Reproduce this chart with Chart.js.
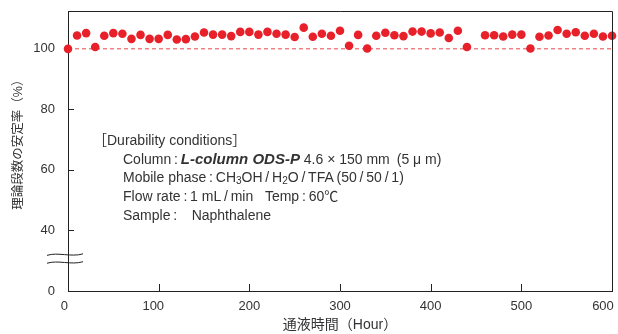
<!DOCTYPE html>
<html lang="ja">
<head>
  <meta charset="UTF-8">
  <title>理論段数の安定率</title>
  <script src="https://cdn.jsdelivr.net/npm/chart.js"></script>
  <style>
    body {
      margin: 0;
      background: #fff;
    }

    #wrap {
      width: 618px;
      height: 334px;
    }
  </style>
</head>
<body>
<div id="wrap">
  <canvas id="stabilityChart"></canvas>
</div>

<script>
  // 通液時間 (Hour) — 450 h は測定なし
  const hours = [0, 10, 20, 30, 40, 50, 60, 70, 80, 90,
    100, 110, 120, 130, 140, 150, 160, 170, 180, 190,
    200, 210, 220, 230, 240, 250, 260, 270, 280, 290,
    300, 310, 320, 330, 340, 350, 360, 370, 380, 390,
    400, 410, 420, 430, 440, 460, 470, 480, 490,
    500, 510, 520, 530, 540, 550, 560, 570, 580, 590, 600];

  // 理論段数の安定率 (%)
  const stability = [100.0, 104.4, 105.2, 100.6, 104.3, 105.2, 105.0, 103.3, 104.6, 103.3,
    103.3, 104.6, 103.1, 103.2, 104.1, 105.4, 104.7, 104.7, 104.2, 105.6,
    105.6, 104.7, 105.6, 105.0, 104.7, 103.9, 107.0, 104.0, 105.0, 104.3,
    106.0, 101.0, 104.6, 100.1, 104.3, 105.3, 104.5, 104.2, 105.7, 105.7,
    105.1, 105.4, 103.6, 106.0, 100.6, 104.5, 104.5, 104.1, 104.7,
    104.7, 100.1, 104.0, 104.4, 106.2, 105.0, 105.5, 104.3, 105.0, 104.1, 104.3];

  // 100 % の基準線
  const refHours = [0, 600];
  const refValues = [100, 100];

  const xTicks = [0, 100, 200, 300, 400, 500, 600];
  // 20 の位置は軸の切れ目の下で「0」と表示する
  const yTicks = [20, 40, 60, 80, 100];
  const yTickLabels = ['0', '40', '60', '80', '100'];

  const RED = '#e8202a';
  const INK = '#222';
  const LATIN = '"Liberation Sans", "Noto Sans CJK JP", sans-serif';

  // 右端・左端のラベルを少し左へ寄せる（元図に合わせて）
  const xLabelPad = { 0: 2, 100: 3, 600: 5 };

  const R = '14px ' + LATIN;
  const SUB = '10px ' + LATIN;
  const BI = 'italic bold 15px ' + LATIN;
  const C = '\u2009:\u2009';
  const S = '\u2009/\u2009';

  const noteLines = [
    { indent: 0, runs: [['［Durability conditions］', R]] },
    { indent: 30, runs: [['Column' + C, R], ['L-column ODS-P', BI], [' 4.6 × 150 mm\u2002(5 μ m)', R]] },
    { indent: 30, runs: [['Mobile phase' + C + 'CH', R], ['3', SUB, 3], ['OH' + S + 'H', R], ['2', SUB, 3],
      ['O' + S + 'TFA\u2009(50' + S + '50' + S + '1)', R]] },
    { indent: 30, runs: [['Flow rate' + C + '1 mL' + S + 'min   Temp' + C + '60℃', R]] },
    { indent: 30, runs: [['Sample' + C + '   Naphthalene', R]] }
  ];

  const decorPlugin = {
    id: 'decor',
    afterDraw(chart) {
      const { ctx, chartArea: a, scales: { x, y } } = chart;
      ctx.save();

      // 上・右の枠
      ctx.strokeStyle = INK;
      ctx.lineWidth = 1;
      ctx.beginPath();
      ctx.moveTo(a.left, a.top + 0.5);
      ctx.lineTo(a.right + 0.5, a.top + 0.5);
      ctx.lineTo(a.right + 0.5, a.bottom);
      ctx.stroke();

      // 内向きの目盛り
      ctx.beginPath();
      for (const v of xTicks.slice(1, -1)) {
        const px = Math.round(x.getPixelForValue(v)) + 0.5;
        ctx.moveTo(px, a.bottom);
        ctx.lineTo(px, a.bottom - 7);
      }
      for (const v of yTicks.slice(1, -1)) {
        const py = Math.round(y.getPixelForValue(v)) + 0.5;
        ctx.moveTo(a.left, py);
        ctx.lineTo(a.left + 6, py);
      }
      ctx.stroke();

      // 軸の切れ目（波線）
      for (const v of [32.1, 29.5]) {
        const py = y.getPixelForValue(v);
        ctx.beginPath();
        ctx.moveTo(a.left - 21, py + 1);
        ctx.bezierCurveTo(a.left - 10, py - 2.5, a.left + 3, py + 3, a.left + 15, py - 0.5);
        ctx.stroke();
      }

      // 条件の注記
      ctx.fillStyle = '#333';
      ctx.textBaseline = 'middle';
      ctx.textAlign = 'left';
      let ty = 141;
      for (const line of noteLines) {
        let tx = a.left + 25 + line.indent;
        for (const [text, font, dy] of line.runs) {
          ctx.font = font;
          ctx.fillText(text, tx, ty + (dy || 0));
          tx += ctx.measureText(text).width;
        }
        ty += 18.7;
      }

      ctx.restore();
    }
  };

  const ctx = document.getElementById('stabilityChart').getContext('2d');
  new Chart(ctx, {
    type: 'scatter',
    data: {
      datasets: [{
        label: '安定率',
        data: hours.map((h, i) => ({ x: h, y: stability[i] })),
        backgroundColor: RED,
        borderColor: RED,
        pointRadius: 4.3,
        pointHoverRadius: 4.3,
        borderWidth: 0,
        clip: false
      }, {
        label: '100%',
        data: refHours.map((h, i) => ({ x: h, y: refValues[i] })),
        showLine: true,
        borderColor: '#e8434a',
        borderWidth: 1,
        borderDash: [4, 3],
        pointRadius: 0
      }]
    },
    options: {
      responsive: true,
      maintainAspectRatio: false,
      animation: false,
      events: [],
      layout: {
        padding: { left: 0, right: 6, top: 11, bottom: 0 }
      },
      plugins: {
        legend: { display: false },
        tooltip: { enabled: false }
      },
      scales: {
        x: {
          type: 'linear',
          min: 0,
          max: 600,
          afterBuildTicks: s => { s.ticks = xTicks.map(v => ({ value: v })); },
          afterFit: s => {
            s.height = 43;
            s.paddingLeft = 0;
            s.paddingRight = 0;
          },
          grid: { display: false, drawTicks: false },
          border: { display: true, color: INK, width: 1 },
          ticks: {
            padding: 8,
            maxRotation: 0,
            autoSkip: false,
            color: '#333',
            font: { family: LATIN, size: 13 },
            callback: v => String(v) + ' '.repeat(xLabelPad[v] || 0)
          },
          title: {
            display: true,
            text: '通液時間（Hour）',
            color: '#333',
            font: { family: LATIN, size: 14 },
            padding: { top: 0, bottom: 0 }
          }
        },
        y: {
          min: 20,
          max: 112.5,
          afterBuildTicks: s => { s.ticks = yTicks.map(v => ({ value: v })); },
          afterFit: s => {
            s.width = 68;
            s.paddingTop = 0;
            s.paddingBottom = 0;
          },
          grid: { display: false, drawTicks: false },
          border: { display: true, color: INK, width: 1 },
          ticks: {
            padding: 13,
            color: '#333',
            font: { family: LATIN, size: 13 },
            callback: v => yTickLabels[yTicks.indexOf(v)]
          },
          title: {
            display: true,
            text: '\u3000\u2002理論段数の安定率（%）',
            color: '#333',
            font: { family: LATIN, size: 12.5 },
            padding: { top: 11, bottom: 0 }
          }
        }
      }
    },
    plugins: [decorPlugin]
  });
</script>

</body>
</html>
